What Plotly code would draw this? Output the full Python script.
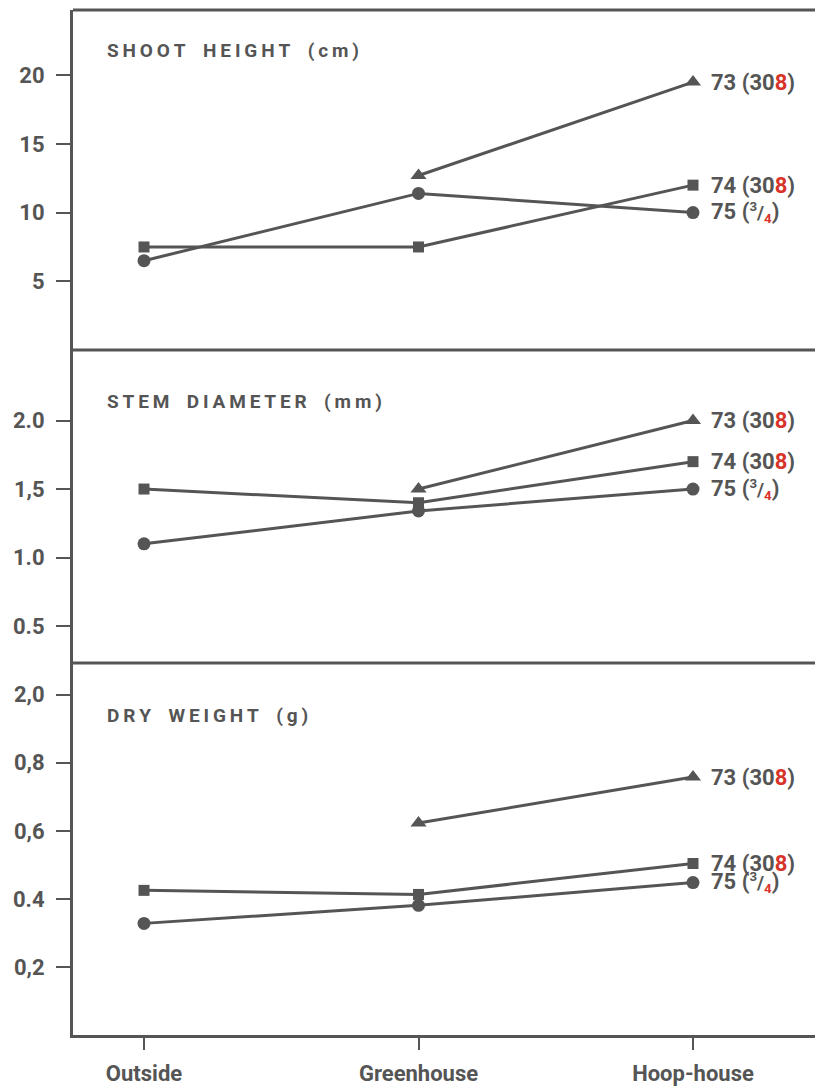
import plotly.graph_objects as go

# ---------------- data ----------------
sites = ["Outside", "Greenhouse", "Hoop-house"]
site_pos = [0, 1, 2]

series_names = ["73", "74", "75"]

shoot_73 = [None, 12.7, 19.5]
shoot_74 = [7.5, 7.5, 12.0]
shoot_75 = [6.5, 11.4, 10.0]

stem_73 = [None, 1.50, 2.00]
stem_74 = [1.50, 1.40, 1.70]
stem_75 = [1.10, 1.34, 1.50]

dry_73 = [None, 0.623, 0.758]
dry_74 = [0.425, 0.413, 0.504]
dry_75 = [0.328, 0.381, 0.448]

shoot_ticks = [5, 10, 15, 20]
shoot_ticktext = ["5", "10", "15", "20"]
stem_ticks = [0.5, 1.0, 1.5, 2.0]
stem_ticktext = ["0.5", "1.0", "1,5", "2.0"]
dry_ticks = [0.2, 0.4, 0.6, 0.8, 1.0]
dry_ticktext = ["0,2", "0.4", "0,6", "0,8", "2,0"]

panel_titles = ["SHOOT HEIGHT (cm)", "STEM DIAMETER (mm)", "DRY WEIGHT (g)"]

RED = "#d8342a"
labels = {
    "73": "73 (30<span style='color:%s'>8</span>)" % RED,
    "74": "74 (30<span style='color:%s'>8</span>)" % RED,
    "75": "75 (<span style='font-size:19px'><sup>3</sup>/<sub><span style='color:%s'>4</span></sub></span>)" % RED,
}
symbols = {"73": "triangle-up", "74": "square", "75": "circle"}
msize = {"73": 14, "74": 11, "75": 13}

INK = "#555555"
FONT = "Roboto, Liberation Sans, sans-serif"

def spaced(s):
    return "\u2009".join(list(s)).replace("\u2009 \u2009", "\u2009\u2002\u2009")

panels = [
    ("y", [shoot_73, shoot_74, shoot_75], [0, 24.75], shoot_ticks, shoot_ticktext, -40),
    ("y2", [stem_73, stem_74, stem_75], [0.23, 2.515], stem_ticks, stem_ticktext, -52),
    ("y3", [dry_73, dry_74, dry_75], [0, 1.093], dry_ticks, dry_ticktext, -52),
]

fig = go.Figure()

annotations = []
for (yref, data, rng, tv, tt, tshift), title in zip(panels, panel_titles):
    for name, vals in zip(series_names, data):
        fig.add_trace(go.Scatter(
            x=site_pos, y=vals, mode="lines+markers", yaxis=yref, xaxis="x",
            line=dict(color=INK, width=3), connectgaps=False,
            marker=dict(symbol=symbols[name], size=msize[name], color=INK),
            showlegend=False, hoverinfo="skip"))
        annotations.append(dict(
            x=site_pos[-1], y=vals[-1], xref="x", yref=yref,
            text="<b>" + labels[name] + "</b>", showarrow=False,
            xanchor="left", yanchor="middle", xshift=16,
            font=dict(family=FONT, size=22, color=INK)))
    annotations.append(dict(
        x=0, y=rng[1], xref="paper", yref=yref,
        text="<b>" + spaced(title) + "</b>", showarrow=False, xanchor="left",
        yanchor="middle", xshift=32, yshift=tshift,
        font=dict(family=FONT, size=19, color=INK)))

# panel domains (paper fractions, from bottom)
d1 = [0.6683, 1.0]
d2 = [0.3629, 0.6683]
d3 = [0.0, 0.3629]

yax_common = dict(showgrid=False, zeroline=False, showline=True, linecolor=INK,
                  linewidth=3, ticks="outside", ticklen=14, tickwidth=2,
                  tickcolor=INK, tickfont=dict(family=FONT, size=22, color=INK, weight="bold"),
                  anchor="x", ticklabelstandoff=7, automargin=False)

fig.update_layout(
    width=815, height=1083,
    margin=dict(l=65, r=0, t=2, b=56),
    paper_bgcolor="white", plot_bgcolor="white",
    xaxis=dict(range=[-0.2587, 2.4736], tickvals=site_pos,
               ticktext=sites,
               showgrid=False, zeroline=False, showline=True, linecolor=INK,
               linewidth=3, ticks="outside", ticklen=12, tickwidth=2,
               tickcolor=INK, tickfont=dict(family=FONT, size=22, color=INK, weight="bold"),
               ticklabelstandoff=5, anchor="y3", automargin=False),
    yaxis=dict(domain=d1, range=panels[0][2], tickvals=panels[0][3],
               ticktext=panels[0][4], **yax_common),
    yaxis2=dict(domain=d2, range=panels[1][2], tickvals=panels[1][3],
                ticktext=panels[1][4], **yax_common),
    yaxis3=dict(domain=d3, range=panels[2][2], tickvals=panels[2][3],
                ticktext=panels[2][4], **yax_common),
    annotations=annotations,
    shapes=[
        dict(type="line", xref="paper", yref="paper", x0=0, x1=1, y0=1, y1=1,
             line=dict(color=INK, width=3)),
        dict(type="line", xref="paper", yref="paper", x0=0, x1=1, y0=d1[0], y1=d1[0],
             line=dict(color=INK, width=3)),
        dict(type="line", xref="paper", yref="paper", x0=0, x1=1, y0=d2[0], y1=d2[0],
             line=dict(color=INK, width=3)),
    ],
)

fig.write_html("out.html")
